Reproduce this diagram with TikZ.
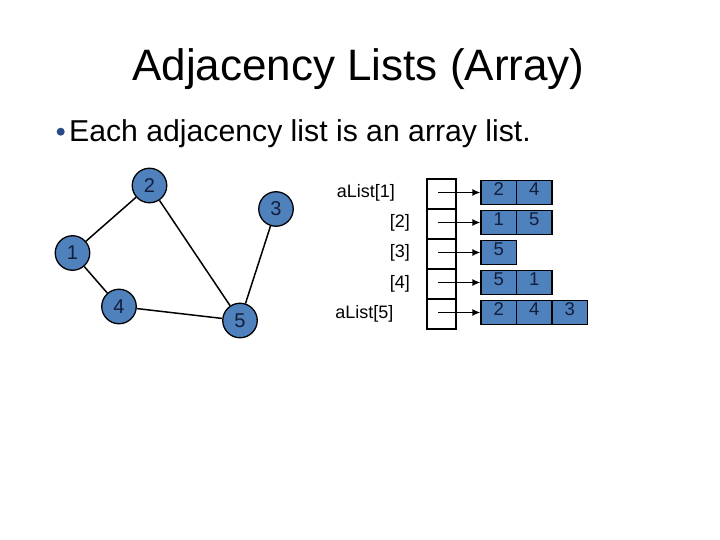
\documentclass[tikz,border=0pt]{standalone}
\usepackage{fontspec}
\setmainfont{Liberation Sans}
\usetikzlibrary{arrows.meta}
\definecolor{nodeblue}{RGB}{79,129,189}
\definecolor{bulletblue}{RGB}{40,75,135}
\definecolor{digitnavy}{RGB}{20,30,60}
\tikzset{
  vert/.style={circle,draw=black,line width=1.3pt,fill=nodeblue,minimum size=34.5pt,inner sep=0pt,text=digitnavy,font=\fontsize{20}{22}\selectfont},
  edge/.style={line width=1.5pt,black},
  arrbox/.style={rectangle,draw=black,line width=1.6pt,minimum width=29pt,minimum height=30pt,inner sep=0pt},
  cell/.style={rectangle,draw=black,line width=1.3pt,fill=nodeblue,minimum width=35.5pt,minimum height=23.5pt,inner sep=0pt},
  celltext/.style={text=digitnavy,font=\fontsize{18.5}{20}\selectfont},
  lbl/.style={anchor=base east,inner sep=0pt,font=\fontsize{18}{20}\selectfont},
  arr/.style={line width=1.3pt,-{Latex[length=8pt,width=7pt]}}
}
\begin{document}
\begin{tikzpicture}[x=1pt,y=-1pt]
\useasboundingbox (0,0) rectangle (720,540);
\fill[white] (0,0) rectangle (720,540);
% title
\node[anchor=base,inner sep=0pt,font=\fontsize{44}{52}\selectfont] (title) at (358.5,81) {Adjacency Lists (Array)};
% bullet
\fill[bulletblue] (60.7,131.7) circle (4pt);
\node[anchor=base west,inner sep=0pt,font=\fontsize{30.2}{36}\selectfont] (bullet) at (69,142) {Each adjacency list is an array list.};
% graph
\node[vert] (n1) at (72.5,253) {1};
\node[vert] (n2) at (149.5,185.5) {2};
\node[vert] (n3) at (276,209) {3};
\node[vert] (n4) at (119,306.5) {4};
\node[vert] (n5) at (240,320.5) {5};
\draw[edge] (n1) -- (n2);
\draw[edge] (n1) -- (n4);
\draw[edge] (n2) -- (n5);
\draw[edge] (n4) -- (n5);
\draw[edge] (n3) -- (n5);
% array boxes
\foreach \i in {1,...,5}{
  \node[arrbox] (b\i) at (441.5,164+30*\i) {};
}
% labels
\node[lbl] (l1) at (395,198) {aList[1]};
\node[lbl] (l2) at (410,228) {[2]};
\node[lbl] (l3) at (410,258) {[3]};
\node[lbl] (l4) at (410,288) {[4]};
\node[lbl] (l5) at (393.5,318) {aList[5]};
% cells
\foreach \i/\lst in {1/{2,4},2/{1,5},3/{5},4/{5,1},5/{2,4,3}}{
  \foreach \v [count=\k] in \lst {
    \node[cell] (c\i\k) at (481+17.75+35.5*\k-35.5,162.5+30*\i) {};
    \node[celltext] at ([yshift=3pt]c\i\k.center) {\v};
  }
  \draw[arr] (b\i.center |- c\i1.west) ++(-3.5,0) -- (c\i1.west);
}
\end{tikzpicture}
\end{document}
